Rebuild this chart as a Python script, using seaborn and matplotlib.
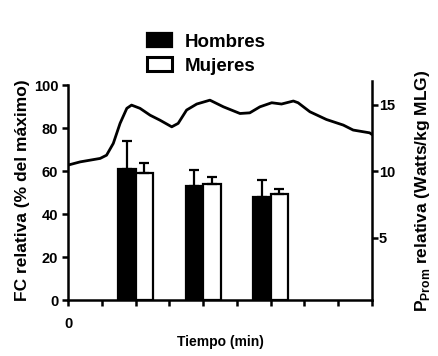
import numpy as np
import pandas as pd
import matplotlib
matplotlib.use("Agg")
import matplotlib.pyplot as plt
from matplotlib.patches import Patch
import seaborn as sns

sns.set_style("ticks", {'axes.edgecolor': 'black', 'text.color': 'black',
                        'axes.labelcolor': 'black', 'xtick.color': 'black',
                        'ytick.color': 'black'})
plt.rcParams['font.family'] = ['Liberation Sans', 'DejaVu Sans']
plt.rcParams['font.weight'] = 'bold'
plt.rcParams['mathtext.fontset'] = 'custom'
plt.rcParams['mathtext.bf'] = 'Liberation Sans:bold'
plt.rcParams['mathtext.rm'] = 'Liberation Sans:bold'

# FC relativa over time (trace)
tiempo = [0.0, 0.36, 0.95, 1.14, 1.34, 1.54, 1.74, 1.88, 2.13, 2.43, 2.72, 3.07,
          3.26, 3.51, 3.81, 4.2, 4.6, 5.09, 5.38, 5.68, 6.03, 6.32, 6.67, 6.81,
          7.16, 7.65, 8.15, 8.44, 8.93, 9.0]
fc = [62.8, 64.3, 65.9, 67.4, 72.9, 82.2, 89.2, 90.7, 89.2, 86.0, 83.7, 80.6,
      82.2, 88.4, 91.2, 93.0, 89.9, 86.8, 87.1, 89.9, 91.8, 91.2, 92.6, 91.8,
      87.6, 84.0, 81.4, 79.1, 77.8, 77.0]

# bars
grupos = [2, 4, 6]
hombres = [60.8, 53.0, 48.1]
hombres_err = [13.3, 7.5, 7.7]
mujeres = [58.9, 54.0, 49.3]
mujeres_err = [5.1, 3.1, 2.3]

df = pd.DataFrame({
    'x': grupos + grupos,
    'valor': hombres + mujeres,
    'sexo': ['Hombres'] * 3 + ['Mujeres'] * 3,
})

fig = plt.figure(figsize=(4.39, 3.56), dpi=100)
ax = fig.add_axes([0.155, 0.157, 0.6925, 0.616])

sns.barplot(data=df, x='x', y='valor', hue='sexo', native_scale=True,
            palette={'Hombres': 'black', 'Mujeres': 'white'}, width=0.52,
            edgecolor='black', linewidth=1.6, legend=False, ax=ax)

for cont, errs in zip(ax.containers, [hombres_err, mujeres_err]):
    xs = [p.get_x() + p.get_width() / 2 for p in cont]
    ys = [p.get_height() for p in cont]
    ax.errorbar(xs, ys, yerr=[np.zeros(len(errs)), errs], fmt='none',
                ecolor='black', elinewidth=1.6, capsize=3.5, capthick=1.6)

sns.lineplot(x=tiempo, y=fc, color='black', linewidth=2.0, ax=ax)

ax.set_xlim(0, 9)
ax.set_ylim(0, 102)
ax.set_xticks(range(10))
ax.set_xticklabels(['0'] + [''] * 9)
ax.set_yticks([0, 20, 40, 60, 80, 100])
ax.spines['left'].set_bounds(0, 100)
for s in ['left', 'bottom']:
    ax.spines[s].set_linewidth(1.8)
ax.spines['top'].set_visible(False)
ax.spines['right'].set_visible(False)
ax.tick_params(width=1.8, length=4, labelsize=10.5, pad=3)
ax.tick_params(axis='x', pad=8)
ax.set_xlabel('Tiempo (min)', fontsize=10, fontweight='bold', labelpad=3)
ax.set_ylabel('FC relativa (% del máximo)', fontsize=12.5, fontweight='bold', labelpad=3)

ax2 = ax.twinx()
ax2.set_ylim(0.3, 16.79)
ax2.set_yticks([5, 10, 15])
ax2.spines['right'].set_linewidth(1.8)
for s in ['left', 'top', 'bottom']:
    ax2.spines[s].set_visible(False)
ax2.tick_params(width=1.8, length=4, labelsize=10.5, pad=1)
ax2.set_ylabel(r'$\mathbf{P}_{\mathbf{Prom}}$ relativa (Watts/kg MLG)',
               fontsize=12.5, fontweight='bold', labelpad=13)

handles = [Patch(facecolor='black', edgecolor='black', linewidth=1.6),
           Patch(facecolor='white', edgecolor='black', linewidth=2.2)]
fig.legend(handles, ['Hombres', 'Mujeres'], loc='upper left',
           bbox_to_anchor=(0.297, 0.955), frameon=False,
           handlelength=1.3, handleheight=0.8, labelspacing=0.35, handletextpad=0.7,
           prop={'weight': 'bold', 'size': 13.5})

fig.savefig('out.png', dpi=100)
